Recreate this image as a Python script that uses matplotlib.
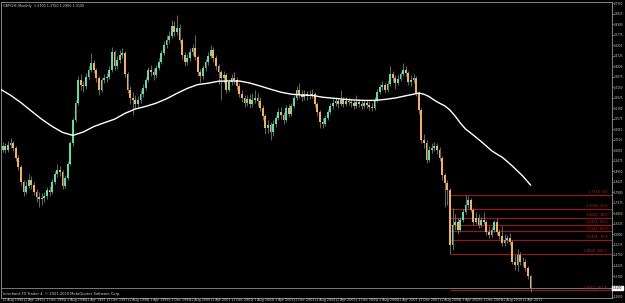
import numpy as np
import matplotlib.pyplot as plt
import matplotlib.transforms as mtransforms

# GBPCHF monthly candles, Jul 1994 .. Jul 2011
first_open = 2.005
closes = [
    2.000, 2.020, 2.000, 2.025, 2.035, 2.010, 1.960, 1.915, 1.840, 1.790,
    1.820, 1.850, 1.825, 1.790, 1.765, 1.755, 1.760, 1.770, 1.800, 1.790,
    1.840, 1.880, 1.900, 1.890, 1.820, 1.860, 1.930, 2.035, 2.150, 2.235,
    2.350, 2.325, 2.320, 2.365, 2.400, 2.435, 2.400, 2.360, 2.300, 2.350,
    2.360, 2.365, 2.400, 2.490, 2.420, 2.450, 2.475, 2.485, 2.380, 2.300,
    2.260, 2.250, 2.230, 2.250, 2.280, 2.310, 2.350, 2.400, 2.390, 2.375,
    2.410, 2.440, 2.485, 2.525, 2.550, 2.570, 2.620, 2.590, 2.610, 2.550,
    2.475, 2.440, 2.460, 2.490, 2.510, 2.465, 2.390, 2.370, 2.410, 2.440,
    2.470, 2.500, 2.460, 2.420, 2.390, 2.360, 2.375, 2.300, 2.340, 2.360,
    2.350, 2.320, 2.280, 2.260, 2.235, 2.255, 2.230, 2.250, 2.260, 2.245,
    2.210, 2.170, 2.110, 2.125, 2.090, 2.130, 2.160, 2.190, 2.175, 2.150,
    2.210, 2.180, 2.220, 2.260, 2.300, 2.275, 2.265, 2.280, 2.270, 2.275,
    2.280, 2.230, 2.190, 2.140, 2.130, 2.160, 2.190, 2.220, 2.235, 2.245,
    2.230, 2.250, 2.230, 2.245, 2.240, 2.235, 2.220, 2.240, 2.230, 2.220,
    2.235, 2.225, 2.215, 2.210, 2.250, 2.290, 2.315, 2.325, 2.300, 2.330,
    2.380, 2.360, 2.335, 2.355, 2.380, 2.400, 2.385, 2.340, 2.350, 2.360,
    2.285, 2.200, 2.050, 2.035, 1.950, 2.000, 2.010, 2.020, 2.000, 1.960,
    1.875, 1.835, 1.800, 1.525, 1.625, 1.640, 1.600, 1.650, 1.690, 1.725,
    1.750, 1.700, 1.640, 1.660, 1.625, 1.650, 1.640, 1.590, 1.575, 1.600,
    1.640, 1.590, 1.570, 1.535, 1.550, 1.560, 1.540, 1.440, 1.425, 1.475,
    1.440, 1.440, 1.410, 1.370, 1.310,
]
highs = [
    2.030, 2.040, 2.035, 2.045, 2.060, 2.045, 2.020, 1.975, 1.925, 1.850,
    1.845, 1.880, 1.870, 1.840, 1.805, 1.790, 1.785, 1.790, 1.815, 1.820,
    1.855, 1.895, 1.930, 1.920, 1.900, 1.875, 1.945, 2.045, 2.160, 2.250,
    2.370, 2.380, 2.345, 2.385, 2.420, 2.485, 2.450, 2.410, 2.370, 2.360,
    2.380, 2.385, 2.420, 2.515, 2.500, 2.470, 2.500, 2.510, 2.495, 2.390,
    2.320, 2.290, 2.275, 2.270, 2.300, 2.330, 2.365, 2.415, 2.425, 2.410,
    2.425, 2.460, 2.500, 2.545, 2.575, 2.595, 2.650, 2.645, 2.675, 2.630,
    2.560, 2.490, 2.480, 2.510, 2.530, 2.575, 2.475, 2.405, 2.425, 2.455,
    2.490, 2.525, 2.515, 2.475, 2.430, 2.400, 2.395, 2.385, 2.355, 2.380,
    2.390, 2.365, 2.335, 2.300, 2.275, 2.275, 2.280, 2.285, 2.300, 2.285,
    2.265, 2.225, 2.180, 2.150, 2.140, 2.150, 2.175, 2.210, 2.215, 2.190,
    2.225, 2.230, 2.235, 2.275, 2.320, 2.335, 2.300, 2.300, 2.295, 2.300,
    2.305, 2.290, 2.240, 2.200, 2.160, 2.175, 2.205, 2.235, 2.255, 2.265,
    2.260, 2.300, 2.265, 2.265, 2.260, 2.255, 2.250, 2.275, 2.255, 2.250,
    2.250, 2.250, 2.245, 2.235, 2.265, 2.305, 2.330, 2.345, 2.340, 2.350,
    2.420, 2.395, 2.375, 2.375, 2.395, 2.435, 2.420, 2.395, 2.375, 2.380,
    2.370, 2.295, 2.210, 2.080, 2.050, 2.020, 2.035, 2.040, 2.035, 2.015,
    1.970, 1.885, 1.850, 1.810, 1.710, 1.680, 1.660, 1.665, 1.705, 1.775,
    1.770, 1.760, 1.710, 1.690, 1.680, 1.665, 1.690, 1.650, 1.620, 1.615,
    1.650, 1.660, 1.605, 1.620, 1.580, 1.575, 1.585, 1.550, 1.475, 1.505,
    1.490, 1.465, 1.455, 1.420, 1.375,
]
lows = [
    1.985, 1.990, 1.985, 1.990, 2.010, 1.995, 1.945, 1.900, 1.825, 1.770,
    1.780, 1.810, 1.805, 1.775, 1.740, 1.715, 1.725, 1.740, 1.755, 1.770,
    1.780, 1.830, 1.865, 1.870, 1.805, 1.810, 1.850, 1.925, 2.020, 2.140,
    2.225, 2.300, 2.290, 2.305, 2.355, 2.390, 2.385, 2.340, 2.275, 2.290,
    2.335, 2.340, 2.355, 2.390, 2.400, 2.405, 2.435, 2.460, 2.365, 2.285,
    2.230, 2.175, 2.205, 2.215, 2.235, 2.265, 2.300, 2.340, 2.370, 2.350,
    2.360, 2.400, 2.430, 2.475, 2.510, 2.535, 2.560, 2.570, 2.575, 2.535,
    2.455, 2.420, 2.425, 2.445, 2.475, 2.450, 2.370, 2.340, 2.355, 2.395,
    2.425, 2.460, 2.440, 2.400, 2.330, 2.250, 2.335, 2.285, 2.290, 2.325,
    2.330, 2.300, 2.265, 2.240, 2.215, 2.220, 2.210, 2.215, 2.235, 2.220,
    2.195, 2.150, 2.080, 2.085, 2.050, 2.070, 2.115, 2.150, 2.155, 2.130,
    2.140, 2.165, 2.170, 2.210, 2.250, 2.260, 2.245, 2.250, 2.250, 2.255,
    2.260, 2.215, 2.170, 2.110, 2.110, 2.120, 2.150, 2.180, 2.205, 2.220,
    2.210, 2.220, 2.215, 2.220, 2.225, 2.215, 2.205, 2.210, 2.215, 2.205,
    2.210, 2.210, 2.200, 2.195, 2.200, 2.240, 2.280, 2.300, 2.285, 2.290,
    2.320, 2.340, 2.305, 2.325, 2.345, 2.370, 2.370, 2.325, 2.320, 2.335,
    2.270, 2.180, 2.035, 2.010, 1.935, 1.940, 1.985, 1.995, 1.980, 1.945,
    1.850, 1.715, 1.725, 1.480, 1.500, 1.600, 1.580, 1.590, 1.640, 1.680,
    1.710, 1.690, 1.625, 1.630, 1.610, 1.615, 1.630, 1.575, 1.560, 1.565,
    1.590, 1.575, 1.555, 1.520, 1.520, 1.535, 1.525, 1.430, 1.400, 1.395,
    1.425, 1.420, 1.395, 1.355, 1.290,
]

# moving average (white line), read at month positions (0 = Aug 1994)
ma_idx = [-1, 3, 7, 11, 15, 19, 23, 27, 31, 35, 39, 43, 47, 51, 55, 59, 63, 67,
          71, 75, 79, 83, 87, 91, 95, 99, 103, 107, 111, 115, 119, 123, 127, 131,
          135, 139, 143, 147, 151, 155, 158, 160, 162, 164, 166, 168, 170, 172,
          174, 176, 178, 180, 182, 184, 186, 188, 190, 192, 194, 196, 198, 200,
          202, 203]
ma_vals = [2.305, 2.274, 2.237, 2.195, 2.154, 2.118, 2.088, 2.073, 2.090, 2.117,
           2.136, 2.154, 2.183, 2.205, 2.218, 2.234, 2.256, 2.283, 2.308, 2.327,
           2.334, 2.344, 2.345, 2.345, 2.335, 2.320, 2.304, 2.289, 2.279, 2.275,
           2.273, 2.264, 2.259, 2.254, 2.250, 2.248, 2.248, 2.253, 2.260, 2.271,
           2.279, 2.285, 2.279, 2.267, 2.249, 2.234, 2.221, 2.200, 2.170, 2.135,
           2.105, 2.085, 2.064, 2.043, 2.020, 1.997, 1.980, 1.965, 1.943, 1.920,
           1.895, 1.870, 1.840, 1.825]

# Fibonacci retracement drawn from the 2009 low to the 2009 high
fib_high = 1.7750
fib_low = 1.4800
fib_start = 172
fib_levels = [0.0, 23.6, 38.2, 50.0, 61.8, 76.4, 100.0, 161.8]

price_ticks = [2.7350, 2.6825, 2.6300, 2.5775, 2.5250, 2.4725, 2.4200, 2.3675,
               2.3150, 2.2625, 2.2100, 2.1575, 2.1050, 2.0525, 2.0000, 1.9475,
               1.8950, 1.8425, 1.7900, 1.7375, 1.6850, 1.6325, 1.5800, 1.5275,
               1.4750, 1.4225, 1.3700, 1.3175, 1.2650]
time_labels = ["1 Aug 1994", "1 Apr 1995", "1 Dec 1995", "1 Aug 1996", "1 Apr 1997",
               "1 Dec 1997", "1 Aug 1998", "1 Apr 1999", "1 Dec 1999", "1 Aug 2000",
               "1 Apr 2001", "1 Dec 2001", "1 Aug 2002", "1 Apr 2003", "1 Dec 2003",
               "1 Aug 2004", "1 Apr 2005", "1 Dec 2005", "1 Aug 2006", "1 Apr 2007",
               "1 Dec 2007", "1 Aug 2008", "1 Apr 2009", "1 Dec 2009", "1 Aug 2010",
               "1 Apr 2011"]
time_pos = list(range(0, 208, 8))

closes = np.array(closes)
opens = np.r_[first_open, closes[:-1]]
highs = np.array(highs)
lows = np.array(lows)
idx = np.arange(len(closes)) - 1

UP = '#5fdca5'
DOWN = '#f0b060'
WICK = '#8f8f8f'
GRID = '#9a9a9a'
TXT = '#cfcfcf'

fig = plt.figure(figsize=(6.25, 3.03), dpi=100, facecolor='black')
ax = fig.add_axes([1 / 625, 5.5 / 303, 611 / 625, 295.5 / 303], facecolor='black')
ax.set_xlim((1 - 2.7) / 2.6, (612 - 2.7) / 2.6)
ax.set_ylim(1.2625, 2.74)

# candles
ax.vlines(idx, lows, highs, color=WICK, lw=0.5, zorder=2)
body_lo = np.minimum(opens, closes)
body_h = np.maximum(np.abs(closes - opens), 0.002)
colors = [UP if c >= o else DOWN for o, c in zip(opens, closes)]
ax.bar(idx, body_h, bottom=body_lo, width=0.65, color=colors, linewidth=0, zorder=3)

# moving average
ax.plot(ma_idx, ma_vals, color='white', lw=1.0, zorder=4)

# fibonacci lines
x_right = (612 - 2.7) / 2.6
x_lab = (607 - 2.7) / 2.6
for lv in fib_levels:
    y = fib_high - lv / 100 * (fib_high - fib_low)
    ax.hlines(y, fib_start, x_right, color='#8e1b1b', lw=0.9, zorder=1)
    ax.text(x_lab, y + 0.004, f"{y:.4f}  {lv:.1f}", color='#c02828', fontsize=2.4,
            ha='right', va='bottom', zorder=5)

# bid line
bid = closes[-1]
ax.axhline(bid, color='#8a8a8a', lw=0.6, zorder=1)

# frame and price scale (the label under the bid box is left blank)
for s in ax.spines.values():
    s.set_color(GRID)
    s.set_linewidth(0.6)
ax.yaxis.tick_right()
ax.set_yticks(price_ticks)
ax.set_yticklabels(["" if abs(v - bid) < 0.02 else f"{v:.4f}" for v in price_ticks])
ax.tick_params(axis='y', colors=GRID, labelcolor=TXT, labelsize=2.0, length=1.2,
               width=0.4, pad=0.4)
blend = mtransforms.blended_transform_factory(ax.transAxes, ax.transData)
ax.text(1.0015, bid, f"{bid:.4f}", transform=blend, fontsize=2.0, color='black',
        va='center', ha='left',
        bbox=dict(boxstyle='square,pad=0.15', fc='white', ec='white'))

# time scale
ax.set_xticks(time_pos)
ax.set_xticklabels([])
ax.tick_params(axis='x', colors=GRID, length=2.0, width=0.4)
blend_x = mtransforms.blended_transform_factory(ax.transData, ax.transAxes)
for p, lab in zip(time_pos, time_labels):
    ax.text(p + 0.6, -0.003, lab, transform=blend_x, fontsize=2.4, color=TXT,
            ha='left', va='top')

o, h, l, c = opens[-1], highs[-1], lows[-1], closes[-1]
ax.text(0.004, 0.993, f"GBPCHF,Monthly  {o:.4f} {h:.4f} {l:.4f} {c:.4f}",
        transform=ax.transAxes, fontsize=2.4, color=TXT, ha='left', va='top')
ax.text(0.003, 0.006, "Interbank FX Trader 4, \u00a9 2001-2010 MetaQuotes Software Corp.",
        transform=ax.transAxes, fontsize=2.6, color=TXT, ha='left', va='bottom')

fig.savefig('out.png', dpi=100, facecolor='black')
